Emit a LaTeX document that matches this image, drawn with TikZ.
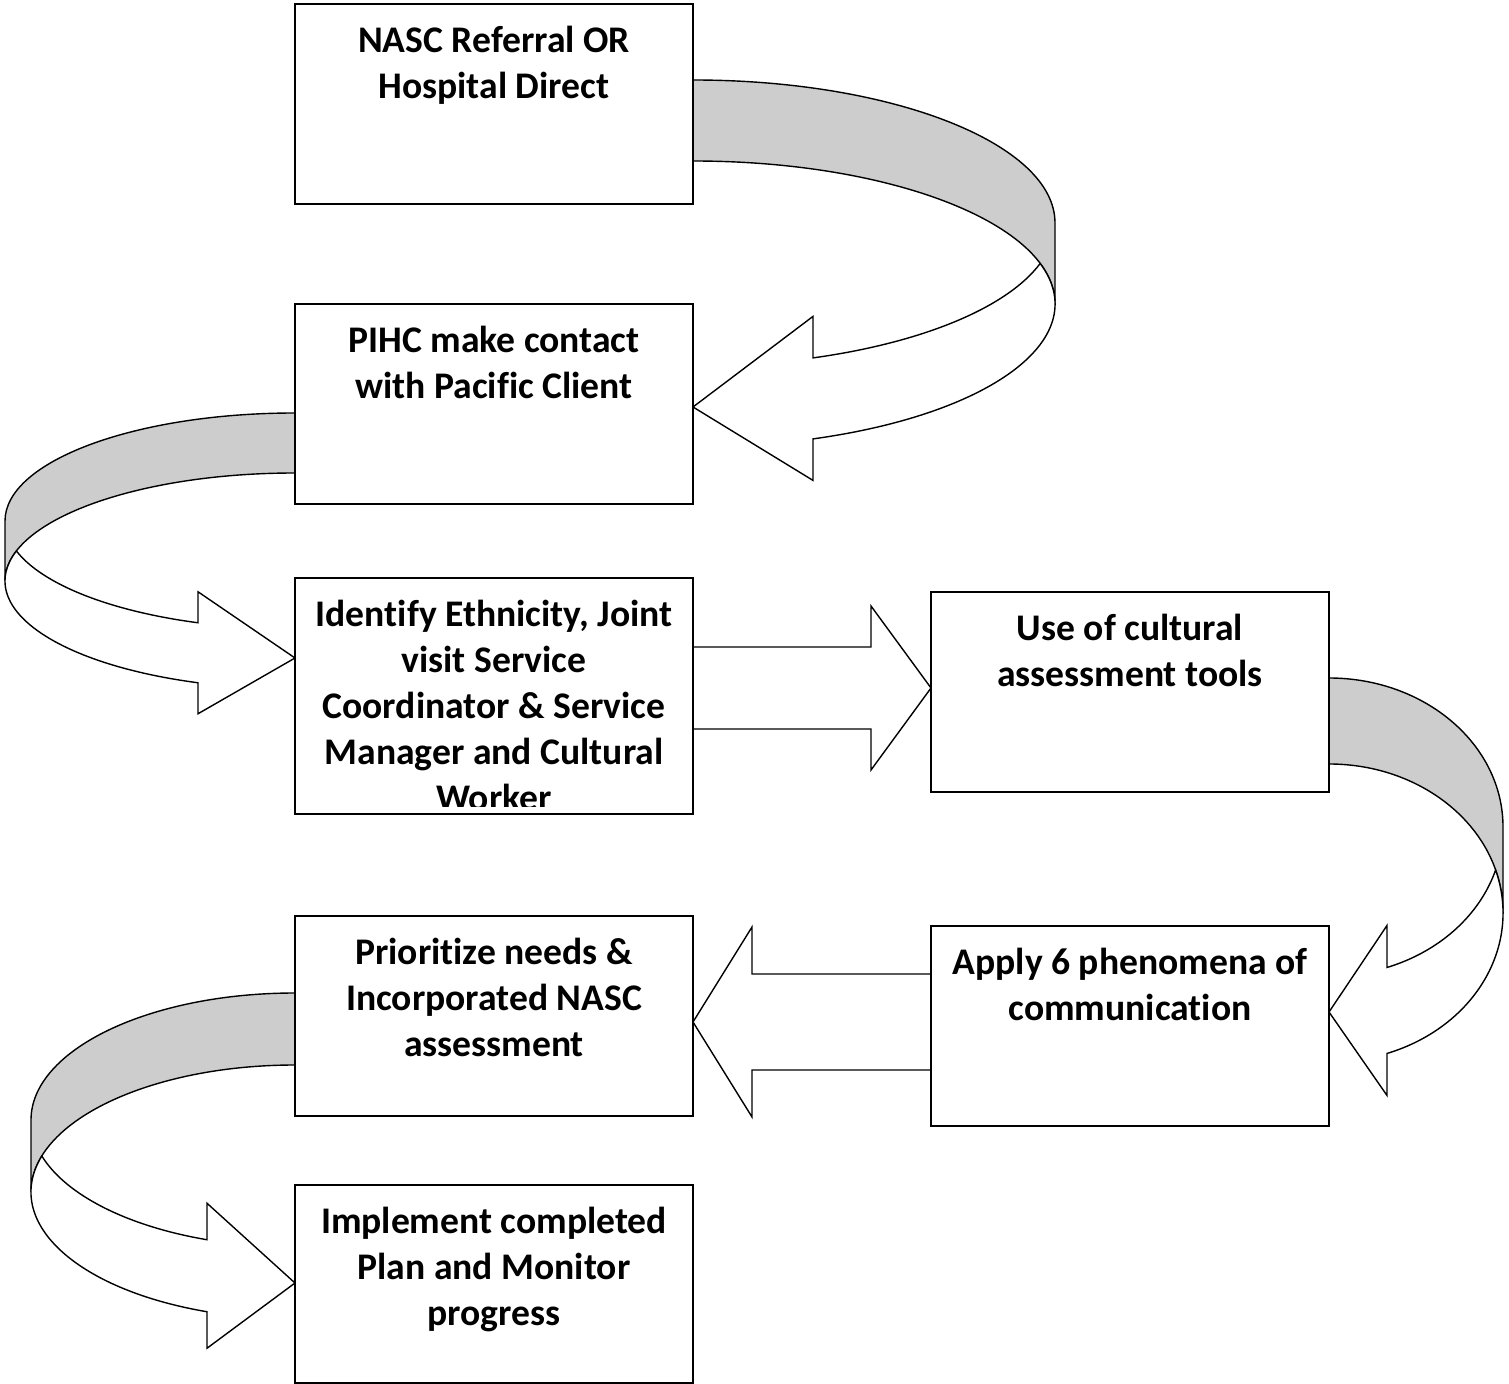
\documentclass[tikz,border=0pt]{standalone}
\usepackage{fontspec}
\setmainfont[Ligatures=NoCommon]{Carlito}
\usepackage{xcolor}
\usepackage{tikz}
\usetikzlibrary{positioning,calc,backgrounds}
\definecolor{BandGrey}{HTML}{CDCDCD}

% #1 placement, #2 x radius, #3 band, #4 y radius, #5 head length, #6 head span, #7 tip drop
\newcommand{\loopArrow}[7]{%
  \begin{scope}[#1]
    \pgfmathsetmacro{\angA}{asin(#3/(2*#4))}
    \pgfmathsetmacro{\angB}{acos(#5/#2)}
    \pgfmathsetmacro{\xS}{#2*cos(\angA)}
    \pgfmathsetmacro{\yS}{-#4-#4*sin(\angA)}
    \pgfmathsetmacro{\yIn}{-#4-#4*sin(\angB)}
    \pgfmathsetmacro{\yOut}{\yIn-#3}
    \pgfmathsetmacro{\hOver}{(#6-#3)/2}
    \filldraw[bandback] (0,0) arc[start angle=90, end angle=0, x radius=#2, y radius=#4]
      -- ++(0,-#3) arc[start angle=0, end angle=90, x radius=#2, y radius=#4] -- cycle;
    \filldraw[bandfront] (\xS,\yS)
      arc[start angle=-\angA, end angle=-\angB, x radius=#2, y radius=#4]
      -- (#5,\yIn+\hOver) -- (0,-#7) -- (#5,\yOut-\hOver) -- (#5,\yOut)
      arc[start angle=-\angB, end angle=\angA, x radius=#2, y radius=#4] -- cycle;
  \end{scope}}

\begin{document}
\begin{tikzpicture}[
    x=0.5pt, y=0.5pt,
    flowbox/.style={draw, line width=1pt, minimum width=199pt, minimum height=100pt,
      inner sep=0pt, outer sep=0pt},
    flowtext/.style={font=\fontsize{18.8pt}{23pt}\selectfont\bfseries, align=center,
      inner sep=0pt, outer sep=0pt},
    bandback/.style={fill=BandGrey, draw=black, line width=0.7pt},
    bandfront/.style={fill=white, draw=black, line width=0.7pt}
  ]
  \useasboundingbox (0,0) rectangle (1509,-1384);

  % boxes
  \node[flowbox] (nasc) at (494,-104) {};
  \node[flowbox] (pihc) at (494,-404) {};
  \node[flowbox, minimum height=118pt] (ident) at (494,-696) {};
  \node[flowbox] (use) at (1130,-692) {};
  \node[flowbox] (apply) at (1130,-1026) {};
  \node[flowbox] (prior) at (494,-1016) {};
  \node[flowbox, minimum height=99pt] (impl) at (494,-1284) {};

  \node[flowtext, below=10.9pt of nasc.north] (nasc-t) {NASC Referral OR\\Hospital Direct};
  \node[flowtext, below=10.9pt of pihc.north] (pihc-t) {PIHC make contact\\with Pacific Client};
  \begin{scope}
    \clip ($(ident.south west)+(0,8)$) rectangle (ident.north east);
    \node[flowtext, below=10.9pt of ident.north] (ident-t)
      {Identify Ethnicity, Joint\\visit Service\\Coordinator \& Service\\Manager and Cultural\\Worker};
  \end{scope}
  \node[flowtext, below=10.9pt of use.north] (use-t) {Use of cultural\\assessment tools};
  \node[flowtext, below=10.9pt of apply.north] (apply-t) {Apply 6 phenomena of\\communication};
  \node[flowtext, below=10.9pt of prior.north] (prior-t) {Prioritize needs \&\\Incorporated NASC\\assessment};
  \node[flowtext, below=10.9pt of impl.north] (impl-t) {Implement completed\\Plan and Monitor\\progress};

  % arrows
  \begin{pgfonlayer}{background}
    \fill[white] (0,0) rectangle (1509,-1384);
    \loopArrow{shift={($(nasc.north east)+(0,-76)$)}}{362}{81}{143}{120}{164}{327}
    \loopArrow{shift={($(pihc.north west)+(0,-109)$)}, xscale=-1}{290}{60}{108}{97}{122}{245}
    \loopArrow{shift={($(use.north east)+(0,-86)$)}}{174}{86}{149}{58}{170}{334}
    \loopArrow{shift={($(prior.north west)+(0,-77)$)}, xscale=-1}{264}{72}{127}{88}{145}{290}

    \coordinate (tipA) at ($(use.west)+(0,4)$);
    \draw[bandfront] (tipA) -- ++(-60,82) -- ++(0,-41) -- ++(-178,0) -- ++(0,-82)
      -- ++(178,0) -- ++(0,-41) -- cycle;
    \coordinate (tipB) at ($(prior.east)+(0,-6)$);
    \draw[bandfront] (tipB) -- ++(59,95) -- ++(0,-47) -- ++(179,0) -- ++(0,-96)
      -- ++(-179,0) -- ++(0,-47) -- cycle;
  \end{pgfonlayer}
\end{tikzpicture}
\end{document}
